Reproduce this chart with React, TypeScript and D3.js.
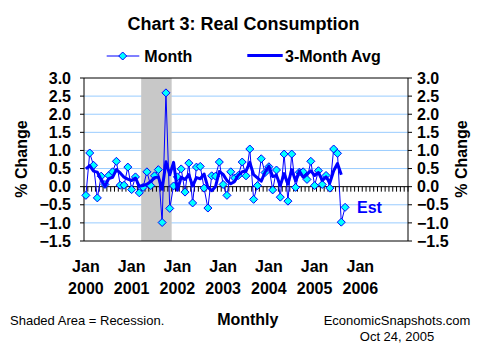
import React from "react";
import * as d3 from "d3";

// Jan 2000 .. Sep 2005 (last value = estimate)
const monthValues: number[] = [
  -0.24, 0.93, 0.59, -0.31, 0.29, 0.06, 0.31, 0.41, 0.70, 0.04, 0.04, 0.54,
  -0.08, 0.27, -0.17, -0.02, 0.41, 0.03, 0.30, 0.47, -0.99, 2.59, -0.60, 0.02,
  0.27, 0.49, -0.15, 0.65, -0.45, 0.54, 0.56, -0.04, -0.59, 0.30, 0.29, 0.68,
  0.06, -0.24, 0.41, 0.24, 0.31, 0.68, 0.30, 1.04, -0.35, 0.03, 0.77, 0.39,
  0.55, -0.09, 0.46, -0.29, 0.90, -0.40, 0.90, -0.02, 0.40, 0.41, 0.20, 0.70,
  0.03, 0.44, 0.06, 0.31, -0.04, 1.04, 0.92, -0.98, -0.57,
];

// 3-month average, Jan 2000 .. Aug 2005
const avgValues: number[] = [
  0.49, 0.58, 0.43, 0.40, 0.19, 0.01, 0.22, 0.26, 0.47, 0.38, 0.26, 0.21,
  0.17, 0.24, 0.01, 0.03, 0.07, 0.14, 0.25, 0.27, -0.07, 0.69, 0.33, 0.67,
  -0.10, 0.26, 0.20, 0.33, 0.02, 0.25, 0.22, 0.35, -0.02, -0.11, 0.0, 0.42,
  0.34, 0.17, 0.08, 0.14, 0.32, 0.41, 0.43, 0.67, 0.33, 0.24, 0.15, 0.40,
  0.57, 0.28, 0.31, 0.03, 0.36, 0.07, 0.47, 0.16, 0.43, 0.26, 0.34, 0.44,
  0.31, 0.39, 0.18, 0.27, 0.11, 0.44, 0.64, 0.33,
];

const categoryCount = 85; // Jan 2000 .. Jan 2007
const yearLabels: string[] = ["2000", "2001", "2002", "2003", "2004", "2005", "2006"];
const yTicks: number[] = [-1.5, -1.0, -0.5, 0.0, 0.5, 1.0, 1.5, 2.0, 2.5, 3.0];
const recessionIdx: number[] = [15, 22]; // shaded months (index range)

const W = 485;
const H = 356;
const L = 84, R = 408, T = 78, B = 241;
const FONT = "'Liberation Sans', Arial, Helvetica, sans-serif";
const BLUE = "#0000ff";

export default function App() {
  const x = d3.scaleLinear().domain([-0.5, categoryCount - 0.5]).range([L, R]);
  const y = d3.scaleLinear().domain([-1.5, 3]).range([B, T]);
  const step = (R - L) / categoryCount;

  const monthLine = d3
    .line<number>()
    .x((_, i) => x(i))
    .y((d) => y(d))(monthValues) as string;
  const avgLine = d3
    .line<number>()
    .x((_, i) => x(i))
    .y((d) => y(d))(avgValues) as string;

  const diamond = (cx: number, cy: number, r: number) =>
    `M${cx},${cy - r}L${cx + r},${cy}L${cx},${cy + r}L${cx - r},${cy}Z`;

  const fmt = d3.format(".1f");

  return (
    <svg
      width={W}
      height={H}
      style={{ position: "absolute", left: 0, top: 0, background: "#fff" }}
      fontFamily={FONT}
    >
      <rect x={0} y={0} width={W} height={H} fill="#fff" />
      <text x={243.5} y={30} textAnchor="middle" fontSize={18} fontWeight="bold">
        Chart 3: Real Consumption
      </text>

      {/* legend */}
      <line x1={106.7} x2={139.3} y1={56} y2={56} stroke={BLUE} strokeWidth={1} />
      <path d={diamond(122.7, 56, 4)} fill="#00ffff" stroke={BLUE} strokeWidth={1} />
      <text x={144.3} y={61.7} fontSize={16} fontWeight="bold">Month</text>
      <line x1={247.3} x2={282.7} y1={55.5} y2={55.5} stroke={BLUE} strokeWidth={3} />
      <text x={285} y={61.7} fontSize={16} fontWeight="bold">3-Month Avg</text>

      {/* gridlines */}
      {yTicks
        .filter((t) => t !== 0 && t !== 3 && t !== -1.5)
        .map((t) => (
          <line key={"g" + t} x1={L} x2={R} y1={y(t)} y2={y(t)} stroke="#99ccff" strokeWidth={1} />
        ))}

      {/* recession shading */}
      <rect
        x={x(recessionIdx[0]) - step / 2}
        y={T}
        width={x(recessionIdx[1]) - x(recessionIdx[0]) + step}
        height={B - T}
        fill="#c8c8c8"
      />

      {/* zero axis with monthly ticks */}
      <line x1={L} x2={R} y1={y(0)} y2={y(0)} stroke="#000" strokeWidth={1} />
      {d3.range(categoryCount + 1).map((k) => (
        <line
          key={"xt" + k}
          x1={L + k * step}
          x2={L + k * step}
          y1={y(0)}
          y2={y(0) + 5}
          stroke="#000"
          strokeWidth={1}
        />
      ))}

      {/* border */}
      <line x1={L} x2={R} y1={T} y2={T} stroke="#000" />
      <line x1={L} x2={R} y1={B} y2={B} stroke="#000" />
      <line x1={L} x2={L} y1={T} y2={B} stroke="#000" />
      <line x1={R} x2={R} y1={T} y2={B} stroke="#000" />

      {/* y ticks and labels */}
      {yTicks.map((t) => (
        <g key={"yt" + t}>
          <line x1={L - 4} x2={L} y1={y(t)} y2={y(t)} stroke="#000" />
          <line x1={R} x2={R + 4} y1={y(t)} y2={y(t)} stroke="#000" />
          <text x={71} y={y(t) + 5.7} textAnchor="end" fontSize={16} fontWeight="bold">
            {fmt(t)}
          </text>
          <text x={417} y={y(t) + 5.7} textAnchor="start" fontSize={16} fontWeight="bold">
            {fmt(t)}
          </text>
        </g>
      ))}

      {/* axis titles */}
      <text
        transform={`translate(27,159) rotate(-90)`}
        textAnchor="middle"
        fontSize={16}
        fontWeight="bold"
      >
        % Change
      </text>
      <text
        transform={`translate(467,159) rotate(-90)`}
        textAnchor="middle"
        fontSize={16}
        fontWeight="bold"
      >
        % Change
      </text>

      {/* x labels */}
      {yearLabels.map((yr, k) => (
        <g key={"xl" + yr}>
          <text x={x(k * 12)} y={272.3} textAnchor="middle" fontSize={16} fontWeight="bold">
            Jan
          </text>
          <text x={x(k * 12)} y={294} textAnchor="middle" fontSize={16} fontWeight="bold">
            {yr}
          </text>
        </g>
      ))}

      {/* series */}
      <path d={monthLine} fill="none" stroke={BLUE} strokeWidth={1} />
      {monthValues.map((v, i) => (
        <path key={"m" + i} d={diamond(x(i), y(v), 4)} fill="#00ffff" stroke={BLUE} strokeWidth={1} />
      ))}
      <path d={avgLine} fill="none" stroke={BLUE} strokeWidth={3} strokeLinejoin="round" />

      <text x={357} y={213} fontSize={16} fontWeight="bold" fill={BLUE}>
        Est
      </text>

      {/* footer */}
      <text x={10} y={325} fontSize={13}>Shaded Area = Recession.</text>
      <text x={247.8} y={325} textAnchor="middle" fontSize={16} fontWeight="bold">
        Monthly
      </text>
      <text x={397} y={325} textAnchor="middle" fontSize={13}>EconomicSnapshots.com</text>
      <text x={397} y={341} textAnchor="middle" fontSize={13}>Oct 24, 2005</text>
    </svg>
  );
}
